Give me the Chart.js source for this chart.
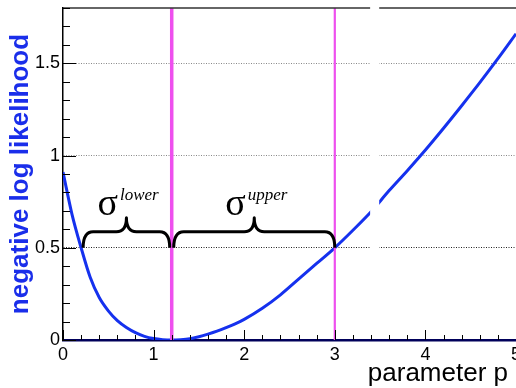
<!DOCTYPE html>
<html>
<head>
<meta charset="utf-8">
<script src="https://cdn.jsdelivr.net/npm/chart.js@4/dist/chart.umd.min.js"></script>
<style>
  html, body { margin: 0; padding: 0; overflow: hidden; background: #fff; }
</style>
</head>
<body>
<canvas id="nll" width="540" height="388"></canvas>
<script>
// values
const pValues = [0, 0.1, 0.2, 0.3, 0.4, 0.5, 0.6, 0.7, 0.8, 0.9, 1.0, 1.1, 1.2, 1.3, 1.4, 1.5, 1.6, 1.7, 1.8, 1.9,
  2.0, 2.2, 2.4, 2.6, 2.8, 3.0, 3.2, 3.4, 3.6, 3.8, 4.0, 4.2, 4.4, 4.6, 4.8, 5.0]
const nllValues = [0.91, 0.68, 0.50, 0.34, 0.23, 0.158, 0.105, 0.068, 0.040, 0.020, 0.008, 0.002, 0, 0.002, 0.007,
  0.018, 0.032, 0.048, 0.067, 0.088, 0.112, 0.172, 0.245, 0.33, 0.415, 0.50, 0.595, 0.695, 0.81, 0.918, 1.03,
  1.148, 1.27, 1.395, 1.525, 1.66]

const bestFit = 1.2
const lowerEdge = 0.2
const upperEdge = 3.0
const deltaLevel = 0.5
const markerLines = [bestFit, upperEdge]
const braceLabels = ['lower', 'upper']

const xTickLabels = ['0', '1', '2', '3', '4', '5']
const yTickLabels = ['0', '0.5', '1', '1.5']

const curveBlue = '#1531ee'
const pink = '#ee4fee'

// braces, labels, inward ticks, frame
const decorations = {
  id: 'decorations',
  afterDatasetsDraw(chart) {
    const { ctx, scales: { x, y } } = chart
    const yb = y.getPixelForValue(deltaLevel)
    const spans = [[lowerEdge, bestFit], [bestFit, upperEdge]]
    ctx.save()
    ctx.strokeStyle = '#000'
    ctx.lineWidth = 3
    ctx.lineJoin = 'round'
    spans.forEach(([a, b], i) => {
      const x1 = x.getPixelForValue(a) + 2
      const x2 = x.getPixelForValue(b) - (i === 0 ? 2 : 0)
      const xm = (x1 + x2) / 2, h1 = 16, h2 = 30, r = 10
      ctx.beginPath()
      ctx.moveTo(x1, yb)
      ctx.quadraticCurveTo(x1, yb - h1, x1 + r, yb - h1)
      ctx.lineTo(xm - r, yb - h1)
      ctx.quadraticCurveTo(xm, yb - h1, xm, yb - h2)
      ctx.quadraticCurveTo(xm, yb - h1, xm + r, yb - h1)
      ctx.lineTo(x2 - r, yb - h1)
      ctx.quadraticCurveTo(x2, yb - h1, x2, yb)
      ctx.stroke()

      // sigma with superscript
      ctx.fillStyle = '#000'
      ctx.textBaseline = 'alphabetic'
      ctx.textAlign = 'left'
      ctx.font = '38px "Liberation Serif"'
      const sx = xm - 29
      ctx.fillText('σ', sx, yb - 33)
      const sw = ctx.measureText('σ').width
      ctx.font = 'italic 17px "Liberation Serif"'
      ctx.fillText(braceLabels[i], sx + sw + 2, yb - 48)
    })
    ctx.restore()
  },
  afterDraw(chart) {
    const { ctx, chartArea: a, scales: { x, y } } = chart
    ctx.save()
    // top frame line
    ctx.strokeStyle = '#333'
    ctx.lineWidth = 1.5
    ctx.beginPath()
    ctx.moveTo(a.left, a.top)
    ctx.lineTo(a.right, a.top)
    ctx.stroke()

    // white strip seen in the picture
    ctx.fillStyle = '#fff'
    const s1 = x.getPixelForValue(3.39), s2 = x.getPixelForValue(3.49)
    ctx.fillRect(s1, 0, s2 - s1, y.getPixelForValue(0.05))

    // inward tick marks
    ctx.strokeStyle = '#000'
    ctx.lineWidth = 1
    ctx.beginPath()
    x.ticks.forEach(t => {
      const px = Math.round(x.getPixelForValue(t.value)) + 0.5
      const major = Math.abs(t.value - Math.round(t.value)) < 1e-6
      ctx.moveTo(px, a.bottom)
      ctx.lineTo(px, a.bottom - (major ? 10 : 5))
    })
    y.ticks.forEach(t => {
      const py = Math.round(y.getPixelForValue(t.value)) + 0.5
      const major = Math.round(t.value * 10) % 5 === 0
      ctx.moveTo(a.left, py)
      ctx.lineTo(a.left + (major ? 13 : 7), py)
    })
    ctx.stroke()

    // x axis title
    ctx.fillStyle = '#000'
    ctx.font = '26px "Liberation Sans"'
    ctx.textAlign = 'right'
    ctx.textBaseline = 'alphabetic'
    ctx.fillText('parameter p', a.right - 8, 381)
    ctx.restore()
  }
}

const ctxNll = document.getElementById('nll').getContext('2d')

const dataNll = {
  datasets: [
    ...markerLines.map((v, i) => ({
      data: [{ x: v, y: 0 }, { x: v, y: 1.8 }],
      borderColor: pink,
      borderWidth: i === 0 ? 3.5 : 2.2,
      pointRadius: 0,
    })),
    {
      data: pValues.map((p, i) => ({ x: p, y: nllValues[i] })),
      borderColor: curveBlue,
      borderWidth: 3,
      pointRadius: 0,
      cubicInterpolationMode: 'monotone',
    },
  ],
}

const configNll = {
  type: 'line',
  data: dataNll,
  plugins: [decorations],
  options: {
    responsive: false,
    animation: false,
    layout: { padding: { top: 8, right: 24, left: 0, bottom: 0 } },
    plugins: { legend: { display: false }, tooltip: { enabled: false } },
    scales: {
      x: {
        type: 'linear',
        min: 0,
        max: 5,
        afterFit: scale => {
          scale.height = 48
          scale.paddingLeft = 0
          scale.paddingRight = 0
        },
        border: { color: '#00005a', width: 2.5 },
        grid: { drawOnChartArea: false, drawTicks: false },
        ticks: {
          stepSize: 0.2,
          autoSkip: false,
          maxRotation: 0,
          padding: 4,
          color: '#000',
          font: { family: 'Liberation Sans', size: 18 },
          callback: value => {
            const k = Math.round(value)
            return Math.abs(value - k) < 1e-6 ? xTickLabels[k] : ''
          },
        },
      },
      y: {
        min: 0,
        max: 1.8,
        afterFit: scale => {
          scale.width = 63
          scale.paddingTop = 0
          scale.paddingBottom = 0
        },
        border: { color: '#000', width: 1.5, dash: [1, 1.5] },
        grid: {
          drawTicks: false,
          lineWidth: 1,
          color: c => {
            const k = Math.round(c.tick.value * 10)
            if (k === 5) return '#222'
            if (k === 10 || k === 15) return '#888'
            return 'rgba(0,0,0,0)'
          },
        },
        ticks: {
          stepSize: 0.1,
          autoSkip: false,
          padding: 3,
          color: '#000',
          font: { family: 'Liberation Sans', size: 18 },
          callback: value => {
            const k = Math.round(value * 10)
            return k % 5 === 0 ? yTickLabels[k / 5] : ''
          },
        },
        title: {
          display: true,
          text: 'negative log likelihood',
          color: '#1a2eea',
          font: { family: 'Liberation Sans', size: 26, weight: 'bold' },
          padding: { top: 5, bottom: 0 },
        },
      },
    },
  },
}

const nllChart = new Chart(ctxNll, configNll)
</script>
</body>
</html>
